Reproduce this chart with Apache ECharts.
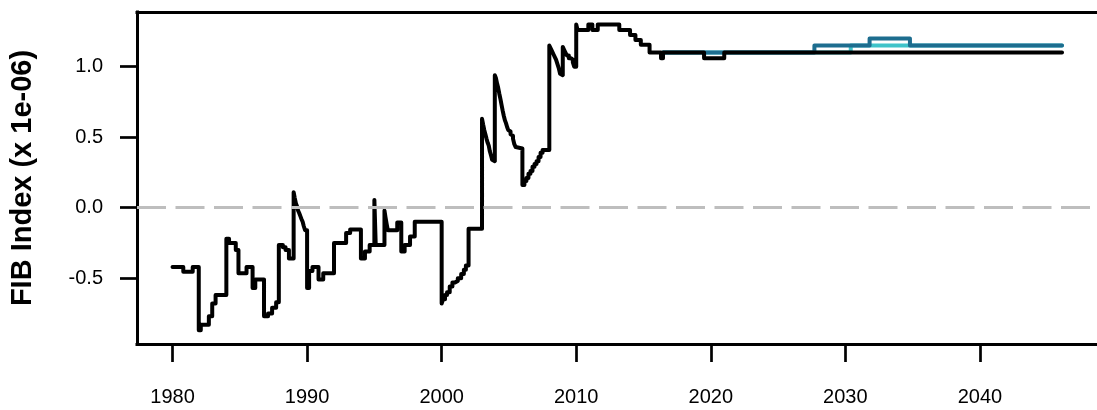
<!DOCTYPE html>
<html>
<head>
<meta charset="utf-8">
<script src="https://cdn.jsdelivr.net/npm/echarts@6/dist/echarts.min.js"></script>
<style>
html,body{margin:0;padding:0;background:#fff;}
#chart{width:1097px;height:410px;}
</style>
</head>
<body>
<div id="chart"></div>
<script>
// ---- data ----
const blackYears = [1980.0,1980.8,1981.5,1981.95,1982.1,1982.7,1982.95,1983.2,1984.0,1984.2,1984.7,1984.9,1985.5,1985.95,1986.15,1986.8,1987.1,1987.4,1987.7,1987.9,1988.2,1988.4,1988.65,
  1989.0,1989.08,1989.17,1989.25,1989.33,1989.42,1989.5,1989.58,1989.67,1989.75,1989.85,
  1990.0,1990.15,1990.4,1990.85,1991.2,1992.0,1992.9,1993.2,1994.0,1994.3,1994.65,1995.0,1995.1,
  1995.75,1995.83,1995.92,1996.0,1996.7,1997.0,1997.25,1997.65,1998.0,
  2000.0,2000.1,2000.25,2000.4,2000.6,2000.8,2001.0,2001.2,2001.45,2001.65,2001.8,2002.0,
  2003.0,2003.08,2003.17,2003.25,2003.33,2003.42,2003.5,2003.58,2003.67,2003.75,2003.83,
  2003.95,2004.03,2004.12,2004.2,2004.28,2004.37,2004.45,2004.53,2004.62,2004.7,2004.78,2004.87,2004.95,2005.03,2005.12,2005.2,2005.3,2005.4,2005.5,2005.6,
  2006.0,2006.15,2006.3,2006.45,2006.6,2006.75,2006.9,2007.05,2007.2,2007.35,2007.5,
  2008.0,2008.1,2008.2,2008.3,2008.4,2008.5,2008.6,2008.7,2008.8,2008.9,
  2009.0,2009.1,2009.2,2009.3,2009.45,2009.6,2009.75,2009.85,
  2010.0,2010.1,2010.9,2011.2,2011.6,2013.2,2014.0,2014.4,2014.8,2015.45,2016.3,2016.45,2019.5,2021.0,2046.1];
const blackValues = [-0.42,-0.455,-0.42,-0.87,-0.83,-0.77,-0.68,-0.62,-0.22,-0.25,-0.30,-0.465,-0.42,-0.57,-0.51,-0.77,-0.75,-0.71,-0.67,-0.265,-0.28,-0.30,-0.36,
  0.11,0.07,0.03,0.01,-0.02,-0.04,-0.06,-0.08,-0.10,-0.13,-0.16,
  -0.57,-0.45,-0.42,-0.51,-0.465,-0.25,-0.18,-0.155,-0.36,-0.31,-0.265,0.055,-0.265,
  -0.02,-0.07,-0.12,-0.16,-0.105,-0.31,-0.265,-0.205,-0.10,
  -0.68,-0.65,-0.62,-0.60,-0.56,-0.53,-0.52,-0.50,-0.47,-0.44,-0.41,-0.15,
  0.63,0.59,0.55,0.52,0.49,0.46,0.44,0.40,0.37,0.34,0.33,
  0.94,0.92,0.88,0.85,0.81,0.77,0.73,0.69,0.65,0.62,0.60,0.57,0.55,0.54,0.52,0.51,0.49,0.45,0.43,0.42,
  0.16,0.19,0.21,0.24,0.26,0.29,0.31,0.33,0.36,0.39,0.41,
  1.15,1.13,1.11,1.09,1.07,1.05,1.02,0.99,0.95,0.94,
  1.14,1.12,1.10,1.08,1.06,1.05,1.03,1.00,
  1.30,1.26,1.30,1.26,1.30,1.26,1.225,1.19,1.155,1.10,1.06,1.10,1.06,1.10,1.10];

const blueYears = [2016.45,2027.7,2031.8,2034.8,2046.1];
const blueValues = [1.10,1.15,1.20,1.15,1.15];

const cyanYears = [2016.45,2030.4,2046.1];
const cyanValues = [1.10,1.15,1.15];

const xTicks = [1980,1990,2000,2010,2020,2030,2040];
const yTicks = [-0.5,0.0,0.5,1.0];

const zip = (xs, ys) => xs.map((x, i) => [x, ys[i]]);

const FONT = 'Liberation Sans, Arial, sans-serif';
const X_MIN = 1977.36, X_MAX = 2048.7;
const chart = echarts.init(document.getElementById('chart'), null, {renderer: 'canvas'});

const boxLine = {color: '#000', width: 3, cap: 'square'};

chart.setOption({
  animation: false,
  backgroundColor: '#ffffff',
  grid: {
    left: 137, top: 12, width: 965, height: 332,
    show: false, containLabel: false
  },
  xAxis: [{
    type: 'value', min: X_MIN, max: X_MAX, position: 'bottom',
    splitLine: {show: false},
    axisLine: {show: true, onZero: false, lineStyle: boxLine},
    axisTick: {show: true, customValues: xTicks, length: 18, lineStyle: {color: '#000', width: 2.7}},
    axisLabel: {customValues: xTicks, margin: 43, fontSize: 20, fontFamily: FONT, color: '#000',
      formatter: v => String(v)}
  }, {
    type: 'value', min: X_MIN, max: X_MAX, position: 'top',
    splitLine: {show: false},
    axisLine: {show: true, onZero: false, lineStyle: boxLine},
    axisTick: {show: false}, axisLabel: {show: false}
  }],
  yAxis: {
    type: 'value', min: -0.967, max: 1.388,
    splitLine: {show: false},
    axisLine: {show: true, onZero: false, lineStyle: boxLine},
    axisTick: {show: true, customValues: yTicks, length: 17, lineStyle: {color: '#000', width: 2.7}},
    axisLabel: {customValues: yTicks, margin: 34, fontSize: 20, fontFamily: FONT, color: '#000',
      formatter: v => Number(v).toFixed(1)},
    name: 'FIB Index (x 1e-06)',
    nameLocation: 'middle', nameGap: 100,
    nameTextStyle: {fontSize: 29, fontWeight: 'bold', fontFamily: FONT, color: '#000'}
  },
  series: [
    {
      type: 'line', step: 'end', data: zip(cyanYears, cyanValues), z: 2,
      showSymbol: false, symbol: 'none',
      lineStyle: {color: '#3fc3c9', width: 4, cap: 'round', join: 'round'},
      markLine: {
        silent: true, symbol: ['none', 'none'], label: {show: false},
        lineStyle: {color: '#bebebe', width: 3, type: [29, 9.5]},
        data: [{yAxis: 0}]
      }
    },
    {
      type: 'line', step: 'end', data: zip(blueYears, blueValues), z: 3,
      showSymbol: false, symbol: 'none',
      lineStyle: {color: '#1d6d8f', width: 4, cap: 'round', join: 'round'}
    },
    {
      type: 'line', step: 'end', data: zip(blackYears, blackValues), z: 4,
      showSymbol: false, symbol: 'none',
      lineStyle: {color: '#000000', width: 4, cap: 'round', join: 'round'}
    }
  ]
});
</script>
</body>
</html>
